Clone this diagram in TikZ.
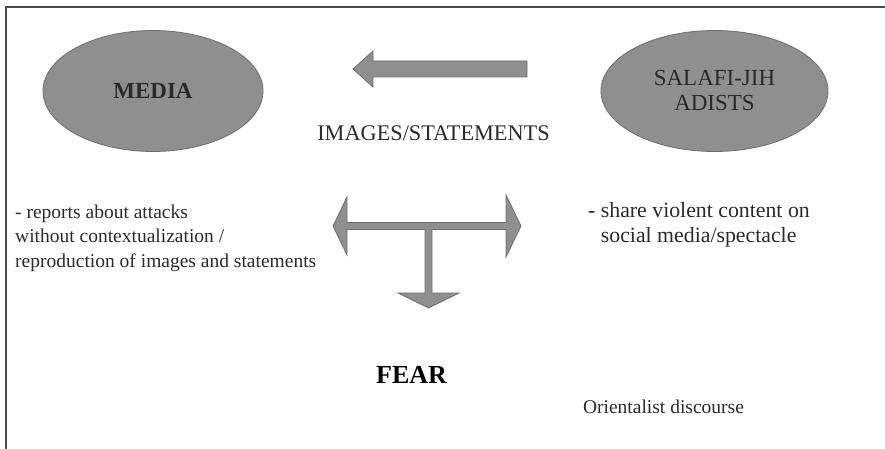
\documentclass[tikz,border=0pt]{standalone}
\usepackage{fontspec}
\setmainfont{Liberation Serif}
\usepackage{tikz}
\usetikzlibrary{shapes.geometric}
\definecolor{shapefill}{HTML}{8F8F8F}
\definecolor{shapeline}{HTML}{6E6E6E}
\definecolor{inkgray}{HTML}{2A2A2A}
\definecolor{framegray}{HTML}{4A4A4A}

\begin{document}
\begin{tikzpicture}[x=1pt, y=-1pt,
    actor/.style={ellipse, fill=shapefill, draw=shapeline, line width=0.8pt, inner sep=0pt, text=inkgray},
    blockarrow/.style={fill=shapefill, draw=shapeline, line width=0.8pt, line join=miter},
    label/.style={inner sep=0pt, text=inkgray, font=\fontsize{19.5}{24.5}\selectfont, align=left}]
    \useasboundingbox (0, 0) rectangle (885, 449);
    % partial frame
    \draw[framegray, line width=1.8pt] (6, 449) -- (6, 7) -- (885, 7);
    % the two actors
    \node[actor, minimum width=220, minimum height=121, font=\fontsize{23}{25}\selectfont\bfseries] (media) at (153, 91) {MEDIA};
    \node[actor, minimum width=227, minimum height=121, font=\fontsize{23}{25}\selectfont, align=center, text depth=1pt] (jihadists) at (714.5, 91) {SALAFI-JIH\\ADISTS};
    % arrow from jihadists to media
    \draw[blockarrow] (527, 61) -- (373, 61) -- (373, 51) -- (353, 69) -- (373, 87) -- (373, 77) -- (527, 77) -- cycle;
    \node[label, font=\fontsize{22.3}{25}\selectfont] (images) at (433.5, 133) {IMAGES/STATEMENTS};
    % T-shaped arrow
    \draw[blockarrow] (347, 222.5) -- (506, 222.5) -- (506, 195) -- (521, 226) -- (506, 257) -- (506, 229.5)
        -- (432, 229.5) -- (432, 293) -- (459, 293) -- (428.5, 308) -- (398, 293) -- (425, 293) -- (425, 229.5)
        -- (347, 229.5) -- (347, 255) -- (333, 226) -- (347, 197) -- cycle;
    \node[label, anchor=west] (mediatext) at (15, 238) {- reports about attacks\\without contextualization /\\reproduction of images and statements};
    \node[label, anchor=west, font=\fontsize{21.8}{24.5}\selectfont] (jihadtext) at (588, 225) {- share violent content on\\\hphantom{- }social media/spectacle};
    \node[label, text=black, font=\fontsize{26}{28}\selectfont\bfseries] (fear) at (411.5, 375) {FEAR};
    \node[label] (orient) at (663.5, 407) {Orientalist discourse};
\end{tikzpicture}
\end{document}
